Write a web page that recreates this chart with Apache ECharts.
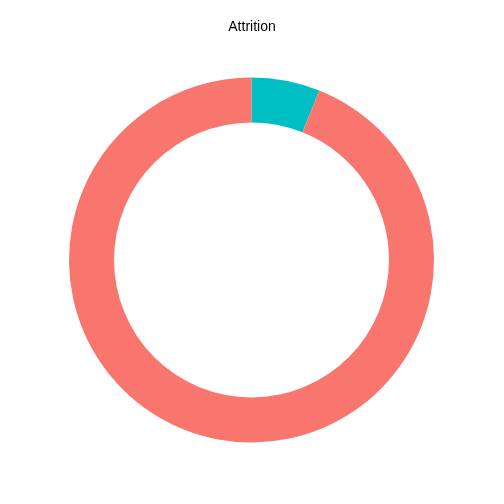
<!DOCTYPE html>
<html>
<head>
<meta charset="utf-8">
<script src="https://cdn.jsdelivr.net/npm/echarts@6/dist/echarts.min.js"></script>
<style>html,body{margin:0;padding:0;background:#fff;}#c{width:504px;height:504px;}</style>
</head>
<body>
<div id="c"></div>
<script>
const categories = ["Yes", "No"];
const values = [6.05, 93.95];
const colors = ["#00BFC4", "#F8766D"];
const titleText = "Attrition";

const chart = echarts.init(document.getElementById('c'), null, {renderer: 'canvas'});
chart.setOption({
  animation: false,
  backgroundColor: '#ffffff',
  title: {
    text: titleText,
    left: 'center',
    top: 15,
    textStyle: {fontFamily: 'Liberation Sans, Arial, sans-serif', fontSize: 14, fontWeight: 'normal', color: '#000000'}
  },
  series: [{
    type: 'pie',
    center: [251.5, 260],
    radius: [137.5, 182.5],
    startAngle: 90,
    clockwise: true,
    label: {show: false},
    labelLine: {show: false},
    emphasis: {disabled: true},
    itemStyle: {borderWidth: 0},
    data: categories.map((c, i) => ({name: c, value: values[i], itemStyle: {color: colors[i]}}))
  }]
});
</script>
</body>
</html>
